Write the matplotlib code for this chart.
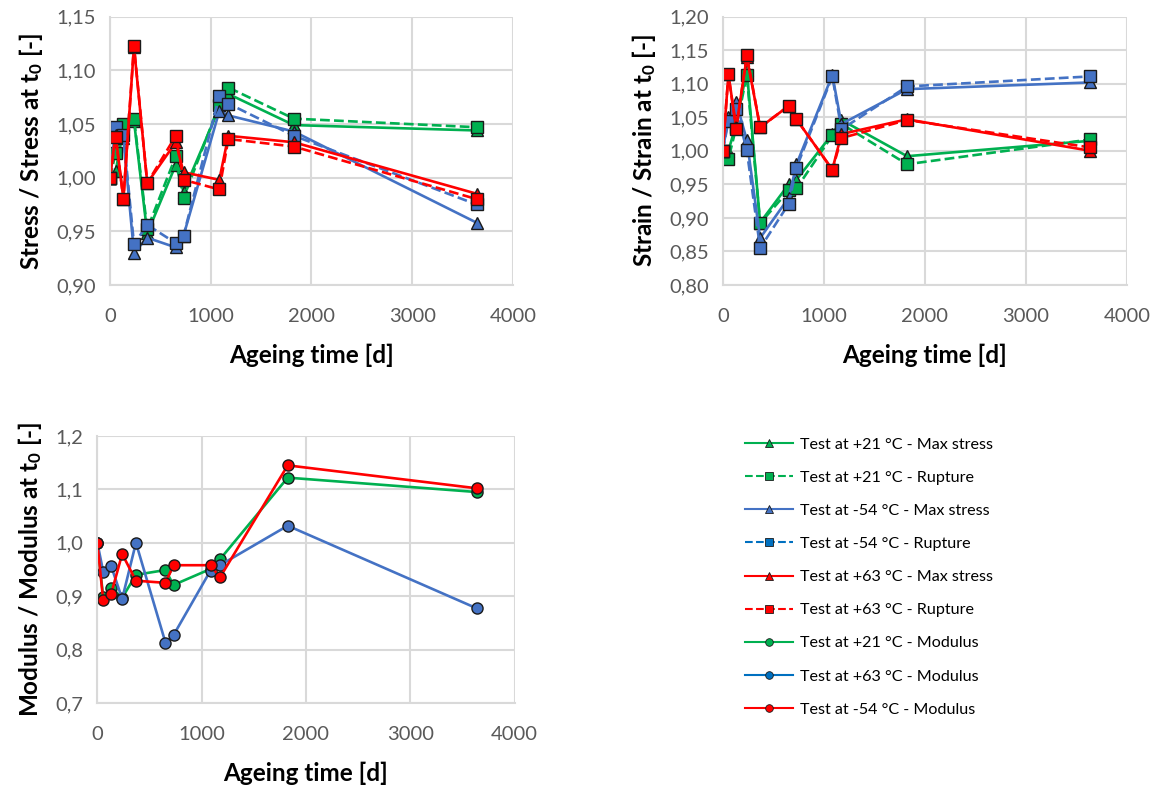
import matplotlib
matplotlib.use("Agg")
import matplotlib.pyplot as plt
from matplotlib.lines import Line2D
from matplotlib.ticker import FuncFormatter, MultipleLocator

plt.rcParams["font.family"] = ["Lato", "DejaVu Sans"]
plt.rcParams["mathtext.fontset"] = "custom"
plt.rcParams["mathtext.rm"] = "Lato"
plt.rcParams["mathtext.bf"] = "Lato:bold"
plt.rcParams["mathtext.default"] = "bf"

# ageing time [d]
t = [0, 56, 133, 238, 370, 653, 730, 1085, 1175, 1825, 3640]

# stress ratio
stress_21_max = [1.000, 1.006, 1.045, 1.053, 0.948, 1.012, 0.987, 1.065, 1.078, 1.049, 1.044]
stress_21_rup = [1.000, 1.023, 1.050, 1.055, 0.952, 1.020, 0.981, 1.068, 1.084, 1.055, 1.047]
stress_m54_max = [1.000, 1.043, 1.037, 0.930, 0.944, 0.935, 0.946, 1.062, 1.058, 1.043, 0.958]
stress_m54_rup = [1.000, 1.047, 1.040, 0.938, 0.956, 0.939, 0.946, 1.076, 1.069, 1.039, 0.975]
stress_63_max = [1.000, 1.040, 0.980, 1.122, 0.995, 1.033, 1.005, 0.998, 1.039, 1.033, 0.985]
stress_63_rup = [1.000, 1.038, 0.980, 1.123, 0.995, 1.039, 0.998, 0.989, 1.036, 1.029, 0.980]

# strain ratio
strain_21_max = [1.000, 1.000, 1.040, 1.120, 0.893, 0.950, 0.957, 1.025, 1.046, 0.992, 1.015]
strain_21_rup = [1.000, 0.988, 1.035, 1.113, 0.892, 0.941, 0.944, 1.023, 1.040, 0.980, 1.017]
strain_m54_max = [1.000, 1.050, 1.073, 1.016, 0.870, 0.930, 0.980, 1.113, 1.040, 1.092, 1.102]
strain_m54_rup = [1.000, 1.044, 1.062, 1.001, 0.855, 0.921, 0.975, 1.111, 1.032, 1.096, 1.111]
strain_63_max = [1.000, 1.114, 1.035, 1.140, 1.035, 1.067, 1.047, 0.972, 1.025, 1.047, 1.000]
strain_63_rup = [1.000, 1.114, 1.032, 1.143, 1.035, 1.067, 1.047, 0.972, 1.019, 1.046, 1.005]

# modulus ratio
mod_21 = [1.000, 0.898, 0.916, 0.897, 0.940, 0.949, 0.921, 0.951, 0.969, 1.122, 1.095]
mod_63 = [1.000, 0.946, 0.956, 0.895, 1.000, 0.813, 0.827, 0.948, 0.958, 1.032, 0.877]
mod_m54 = [1.000, 0.892, 0.905, 0.979, 0.929, 0.925, 0.958, 0.958, 0.935, 1.145, 1.102]

labels = ["Test at +21 °C - Max stress", "Test at +21 °C - Rupture",
          "Test at -54 °C - Max stress", "Test at -54 °C - Rupture",
          "Test at +63 °C - Max stress", "Test at +63 °C - Rupture",
          "Test at +21 °C - Modulus", "Test at +63 °C - Modulus",
          "Test at -54 °C - Modulus"]

GREEN = "#00b050"
BLUE = "#4472c4"
RED = "#ff0000"
GRID = "#d9d9d9"
TICK = "#595959"
LW = 1.9


def style(ax, ymin, ymax, ystep, ydec, ylabel):
    ax.set_xlim(0, 4000)
    ax.set_ylim(ymin, ymax)
    ax.xaxis.set_major_locator(MultipleLocator(1000))
    ax.yaxis.set_major_locator(MultipleLocator(ystep))
    ax.yaxis.set_major_formatter(FuncFormatter(lambda v, p: f"{v:.{ydec}f}".replace(".", ",")))
    ax.grid(True, color=GRID, linewidth=1.5)
    ax.set_axisbelow(True)
    for s in ax.spines.values():
        s.set_visible(False)
    for side in ["left", "bottom"]:
        ax.spines[side].set_visible(True)
        ax.spines[side].set_color(GRID)
        ax.spines[side].set_linewidth(1.5)
    ax.tick_params(length=0, labelsize=14.5, labelcolor=TICK)
    ax.tick_params(axis="x", pad=16.5)
    ax.tick_params(axis="y", pad=10)
    ax.set_xlabel("Ageing time [d]", fontsize=17.5, fontweight="bold", labelpad=13.5)
    ax.set_ylabel(ylabel, fontsize=17.5, fontweight="bold", labelpad=8)


def series(ax, y, color, marker, ls, ms):
    ax.plot(t, y, color=color, linestyle=ls, linewidth=LW, marker=marker,
            markersize=ms, markerfacecolor=color, markeredgecolor="#1a1a1a",
            markeredgewidth=1.0)


fig = plt.figure(figsize=(11.59, 7.92), dpi=100)

ax1 = fig.add_axes([0.0949, 0.6402, 0.3477, 0.3387])
series(ax1, stress_21_max, GREEN, "^", "-", 8)
series(ax1, stress_21_rup, GREEN, "s", "--", 8)
series(ax1, stress_m54_max, BLUE, "^", "-", 8)
series(ax1, stress_m54_rup, BLUE, "s", "--", 8)
series(ax1, stress_63_max, RED, "^", "-", 8)
series(ax1, stress_63_rup, RED, "s", "--", 8)
style(ax1, 0.90, 1.15, 0.05, 2, r"Stress / Stress at t$_0$ [-]")

ax2 = fig.add_axes([0.6236, 0.6402, 0.3486, 0.3387])
series(ax2, strain_21_max, GREEN, "^", "-", 8)
series(ax2, strain_21_rup, GREEN, "s", "--", 8)
series(ax2, strain_m54_max, BLUE, "^", "-", 8)
series(ax2, strain_m54_rup, BLUE, "s", "--", 8)
series(ax2, strain_63_max, RED, "^", "-", 8)
series(ax2, strain_63_rup, RED, "s", "--", 8)
style(ax2, 0.80, 1.20, 0.05, 2, r"Strain / Strain at t$_0$ [-]")

ax3 = fig.add_axes([0.0840, 0.1124, 0.3600, 0.3371])
series(ax3, mod_21, GREEN, "o", "-", 8)
series(ax3, mod_63, BLUE, "o", "-", 8)
series(ax3, mod_m54, RED, "o", "-", 8)
style(ax3, 0.7, 1.2, 0.1, 1, r"Modulus / Modulus at t$_0$ [-]")

leg_style = [(GREEN, "^", "-"), (GREEN, "s", "--"), (BLUE, "^", "-"), ("#0070c0", "s", "--"),
             (RED, "^", "-"), (RED, "s", "--"), (GREEN, "o", "-"), ("#0070c0", "o", "-"),
             (RED, "o", "-")]
handles = [Line2D([], [], color=c, marker=m, linestyle=ls, linewidth=1.5, markersize=5.5,
                  markerfacecolor=c, markeredgecolor="#1a1a1a", markeredgewidth=0.6)
           for c, m, ls in leg_style]
fig.legend(handles, labels, loc="upper left", bbox_to_anchor=(0.630, 0.466),
           frameon=False, fontsize=11.6, labelspacing=1.17, handlelength=3.0,
           handletextpad=0.45)

fig.savefig("out.png", dpi=100)
